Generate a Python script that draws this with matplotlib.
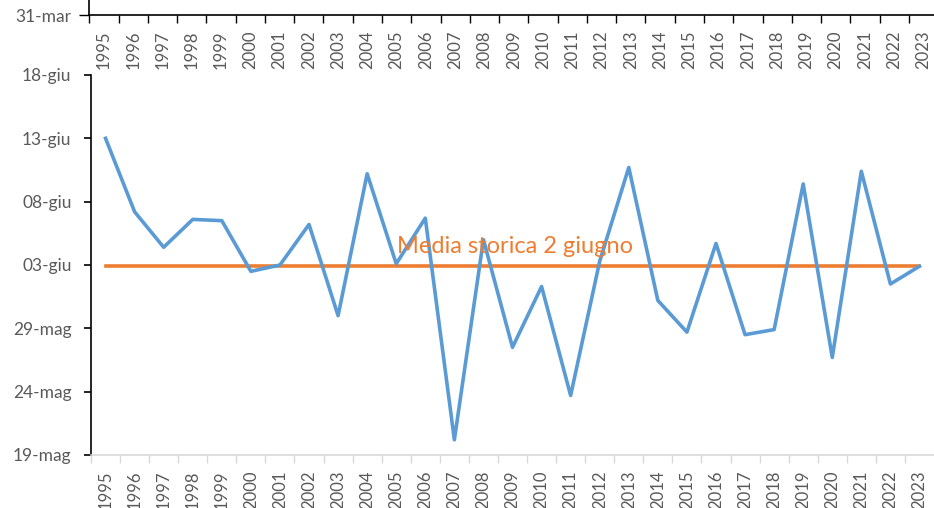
import matplotlib
matplotlib.use("Agg")
import matplotlib.pyplot as plt
from matplotlib.ticker import FixedLocator, NullFormatter

plt.rcParams['font.family'] = ['Lato', 'DejaVu Sans']

years = list(range(1995, 2024))
# day number counted from 30 April (1 = 1 May, 32 = 1 June)
values = [44.0, 38.2, 35.4, 37.6, 37.5, 33.5, 34.0, 37.2, 30.0, 41.2,
          34.1, 37.7, 20.2, 36.0, 27.5, 32.3, 23.7, 34.3, 41.7, 31.2,
          28.7, 35.7, 28.5, 28.9, 40.4, 26.7, 41.4, 32.5, 33.9]
media_value = 33.95
media_label = "Media storica 2 giugno"
ytick_vals = [19, 24, 29, 34, 39, 44, 49]
ytick_labels = ["19-mag", "24-mag", "29-mag", "03-giu", "08-giu", "13-giu", "18-giu"]
top_ylabel = "31-mar"

W, H = 934, 508
fig = plt.figure(figsize=(W / 100, H / 100), dpi=100)

label_color = "#595959"
fs_x = 12
fs_y = 12.5

# ---- top fragment (bottom edge of another chart) ----
top_left = 89.3
top_step = 29.27
axt = fig.add_axes([top_left / W, 1 - 15 / H, len(years) * top_step / W, 20 / H])
axt.set_xlim(1994.5, 2023.5)
axt.set_ylim(0, 1)
for s in ["top", "right"]:
    axt.spines[s].set_visible(False)
axt.spines["left"].set_color("black")
axt.spines["bottom"].set_color("black")
axt.spines["left"].set_linewidth(1.2)
axt.spines["bottom"].set_linewidth(1.2)
axt.set_yticks([0])
axt.set_yticklabels([top_ylabel], color=label_color, fontsize=fs_y)
axt.tick_params(axis="y", length=7, width=1, color="black", pad=6)
axt.set_xticks(years)
axt.set_xticklabels([str(y) for y in years], rotation=90, color=label_color, fontsize=fs_x)
axt.tick_params(axis="x", which="major", length=0, pad=11)
axt.xaxis.set_minor_locator(FixedLocator([y + 0.5 for y in years[:-1]] + [1994.5]))
axt.xaxis.set_minor_formatter(NullFormatter())
axt.tick_params(axis="x", which="minor", length=6, width=1, color="black", direction="out")
axt.patch.set_alpha(0)

# ---- main chart ----
ax = fig.add_axes([91 / W, 53 / H, 843 / W, 380 / H])
ax.set_xlim(1994.5, 2023.5)
ax.set_ylim(19, 49)
ax.plot(years, values, color="#5B9BD5", linewidth=2.6, solid_joinstyle="round", zorder=3)
ax.plot([years[0], years[-1]], [media_value, media_value], color="#ED7D31", linewidth=2.6, zorder=2)
ax.text(2005.02, 34.95, media_label, color="#ED7D31", fontsize=17, va="baseline", ha="left", zorder=4)

for s in ["top", "right"]:
    ax.spines[s].set_visible(False)
ax.spines["left"].set_color("black")
ax.spines["left"].set_linewidth(1.2)
ax.spines["bottom"].set_color("#D9D9D9")
ax.spines["bottom"].set_linewidth(1.2)

ax.set_yticks(ytick_vals)
ax.set_yticklabels(ytick_labels, color=label_color, fontsize=fs_y)
ax.tick_params(axis="y", length=5, width=1.2, color="black", pad=9)

ax.set_xticks(years)
ax.set_xticklabels([str(y) for y in years], rotation=90, color=label_color, fontsize=fs_x)
ax.tick_params(axis="x", which="major", length=0, pad=11)
ax.xaxis.set_minor_locator(FixedLocator([y + 0.5 for y in years[:-1]] + [1994.5]))
ax.xaxis.set_minor_formatter(NullFormatter())
ax.tick_params(axis="x", which="minor", length=6, width=1, color="#D9D9D9", direction="out")

fig.savefig("out.png", dpi=100)
